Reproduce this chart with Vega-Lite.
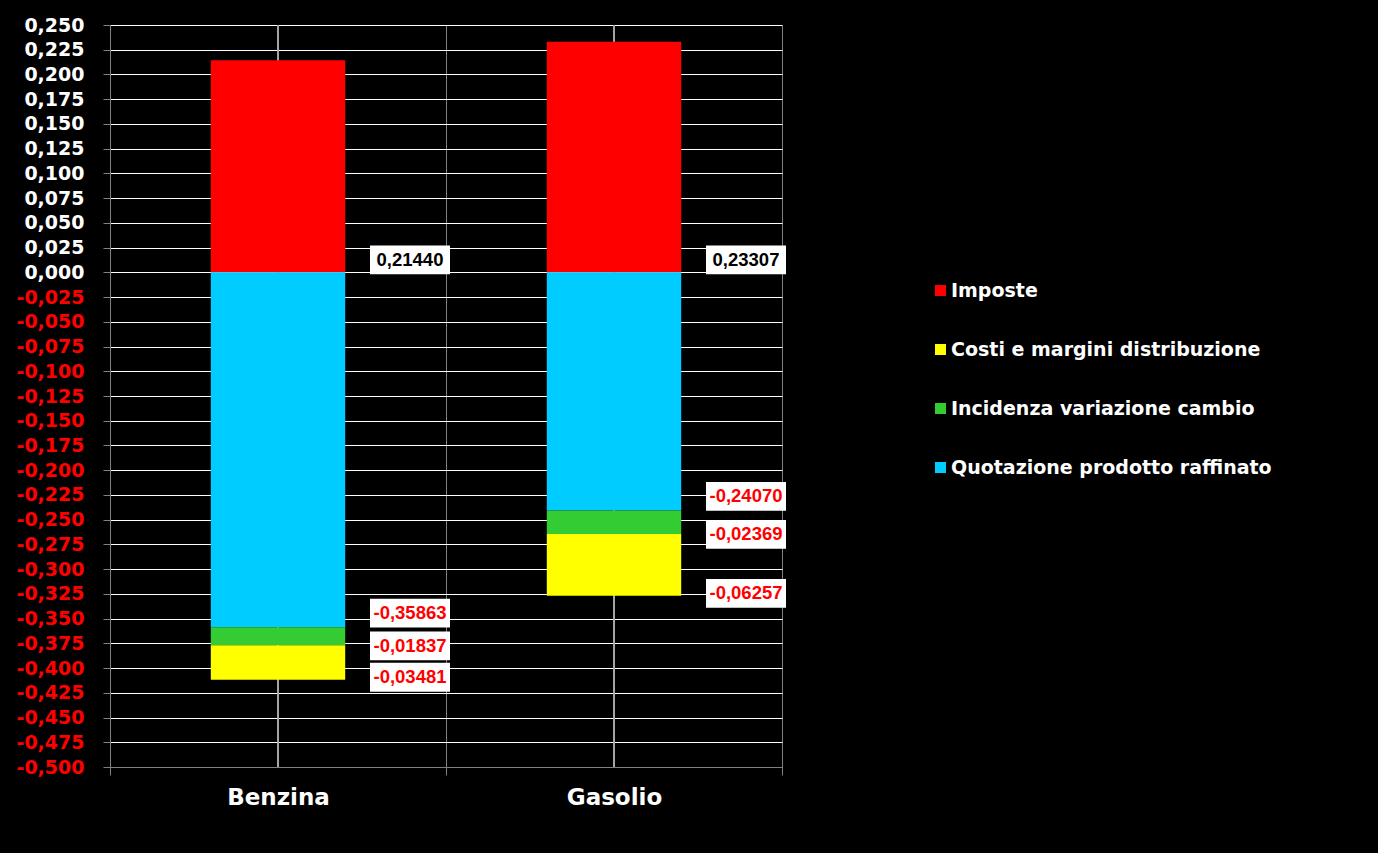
{
  "$schema": "https://vega.github.io/schema/vega-lite/v6.json",
  "width": 672,
  "height": 742,
  "autosize": {"type": "none"},
  "padding": {"left": 110, "top": 25, "right": 596, "bottom": 86},
  "background": "#000000",
  "config": {
    "view": {"stroke": null},
    "locale": {"number": {"decimal": ",", "thousands": ".", "grouping": [3], "currency": ["", " €"], "minus": "-"}}
  },
  "data": {
    "values": [
      {"prodotto": "Benzina", "serie": "Imposte", "valore": 0.21440, "ord": 0},
      {"prodotto": "Benzina", "serie": "Quotazione prodotto raffinato", "valore": -0.35863, "ord": 1},
      {"prodotto": "Benzina", "serie": "Incidenza variazione cambio", "valore": -0.01837, "ord": 2},
      {"prodotto": "Benzina", "serie": "Costi e margini distribuzione", "valore": -0.03481, "ord": 3},
      {"prodotto": "Gasolio", "serie": "Imposte", "valore": 0.23307, "ord": 0},
      {"prodotto": "Gasolio", "serie": "Quotazione prodotto raffinato", "valore": -0.24070, "ord": 1},
      {"prodotto": "Gasolio", "serie": "Incidenza variazione cambio", "valore": -0.02369, "ord": 2},
      {"prodotto": "Gasolio", "serie": "Costi e margini distribuzione", "valore": -0.06257, "ord": 3}
    ]
  },
  "transform": [
    {"stack": "valore", "groupby": ["prodotto"], "sort": [{"field": "ord", "order": "ascending"}], "as": ["v0", "v1"]}
  ],
  "encoding": {
    "x": {
      "field": "prodotto", "type": "nominal",
      "scale": {"domain": ["Benzina", "Gasolio"], "paddingInner": 0, "paddingOuter": 0},
      "axis": {
        "title": null, "labelAngle": 0, "tickBand": "extent",
        "labelFont": "DejaVu Sans", "labelFontWeight": "bold", "labelFontSize": 23, "labelColor": "#ffffff",
        "labelPadding": 11, "tickSize": 8, "tickColor": "#808080", "domainColor": "#808080",
        "grid": true, "gridColor": "#808080", "gridWidth": 1
      }
    },
    "y": {
      "field": "v1", "type": "quantitative",
      "scale": {"domain": [-0.5, 0.25], "nice": false},
      "axis": {
        "title": null,
        "values": [-0.5, -0.475, -0.45, -0.425, -0.4, -0.375, -0.35, -0.325, -0.3, -0.275, -0.25, -0.225, -0.2, -0.175, -0.15, -0.125, -0.1, -0.075, -0.05, -0.025, 0, 0.025, 0.05, 0.075, 0.1, 0.125, 0.15, 0.175, 0.2, 0.225, 0.25],
        "format": ".3f",
        "labelFont": "DejaVu Sans", "labelFontWeight": "bold", "labelFontSize": 19,
        "labelColor": {"condition": {"test": "datum.value < 0", "value": "#ff0000"}, "value": "#ffffff"},
        "labelPadding": 19, "tickSize": 7, "tickColor": "#808080", "domainColor": "#808080",
        "grid": true, "gridColor": "#ffffff", "gridWidth": 1, "labelOverlap": false, "labelFlush": false
      }
    }
  },
  "layer": [
    {
      "mark": {"type": "rule", "color": "#b0b0b0", "strokeWidth": 1},
      "encoding": {"y": null}
    },
    {
      "mark": {"type": "bar", "width": {"band": 0.4}},
      "encoding": {
        "y2": {"field": "v0"},
        "color": {
          "field": "serie", "type": "nominal",
          "scale": {
            "domain": ["Imposte", "Costi e margini distribuzione", "Incidenza variazione cambio", "Quotazione prodotto raffinato"],
            "range": ["#ff0000", "#ffff00", "#33cc33", "#00ccff"]
          },
          "legend": {
            "title": null, "orient": "none", "legendX": 821, "legendY": 256, "padding": 0,
            "symbolType": "square", "symbolSize": 121, "symbolStrokeWidth": 0,
            "labelFont": "DejaVu Sans", "labelFontWeight": "bold", "labelFontSize": 19, "labelColor": "#ffffff",
            "labelOffset": 1, "rowPadding": 39, "labelLimit": 500
          }
        }
      }
    },
    {
      "transform": [{"filter": "datum.serie == 'Imposte'"}],
      "mark": {"type": "point", "shape": "M-1,-0.36L1,-0.36L1,0.36L-1,0.36Z", "size": 6400, "filled": true, "fill": "#ffffff", "opacity": 1, "strokeWidth": 0, "xOffset": 132, "yOffset": -12.5},
      "encoding": {"y2": {"field": "v0"}, "y": {"field": "v0", "type": "quantitative", "scale": {"domain": [-0.5, 0.25], "nice": false},
      "axis": {
        "title": null,
        "values": [-0.5, -0.475, -0.45, -0.425, -0.4, -0.375, -0.35, -0.325, -0.3, -0.275, -0.25, -0.225, -0.2, -0.175, -0.15, -0.125, -0.1, -0.075, -0.05, -0.025, 0, 0.025, 0.05, 0.075, 0.1, 0.125, 0.15, 0.175, 0.2, 0.225, 0.25],
        "format": ".3f",
        "labelFont": "DejaVu Sans", "labelFontWeight": "bold", "labelFontSize": 19,
        "labelColor": {"condition": {"test": "datum.value < 0", "value": "#ff0000"}, "value": "#ffffff"},
        "labelPadding": 19, "tickSize": 7, "tickColor": "#808080", "domainColor": "#808080",
        "grid": true, "gridColor": "#ffffff", "gridWidth": 1, "labelOverlap": false, "labelFlush": false
      }}}
    },
    {
      "transform": [{"filter": "datum.serie == 'Imposte'"}],
      "mark": {"type": "text", "font": "Liberation Sans", "fontWeight": "bold", "fontSize": 18.5, "color": "#000000", "align": "center", "baseline": "middle", "xOffset": 132, "yOffset": -12.5},
      "encoding": {"y": {"field": "v0", "type": "quantitative", "scale": {"domain": [-0.5, 0.25], "nice": false},
      "axis": {
        "title": null,
        "values": [-0.5, -0.475, -0.45, -0.425, -0.4, -0.375, -0.35, -0.325, -0.3, -0.275, -0.25, -0.225, -0.2, -0.175, -0.15, -0.125, -0.1, -0.075, -0.05, -0.025, 0, 0.025, 0.05, 0.075, 0.1, 0.125, 0.15, 0.175, 0.2, 0.225, 0.25],
        "format": ".3f",
        "labelFont": "DejaVu Sans", "labelFontWeight": "bold", "labelFontSize": 19,
        "labelColor": {"condition": {"test": "datum.value < 0", "value": "#ff0000"}, "value": "#ffffff"},
        "labelPadding": 19, "tickSize": 7, "tickColor": "#808080", "domainColor": "#808080",
        "grid": true, "gridColor": "#ffffff", "gridWidth": 1, "labelOverlap": false, "labelFlush": false
      }}, "text": {"field": "valore", "type": "quantitative", "format": ".5f"}}
    },
    {
      "transform": [{"filter": "datum.serie == 'Quotazione prodotto raffinato'"}],
      "mark": {"type": "point", "shape": "M-1,-0.36L1,-0.36L1,0.36L-1,0.36Z", "size": 6400, "filled": true, "fill": "#ffffff", "opacity": 1, "strokeWidth": 0, "xOffset": 132, "yOffset": -14}
    },
    {
      "transform": [{"filter": "datum.serie == 'Quotazione prodotto raffinato'"}],
      "mark": {"type": "text", "font": "Liberation Sans", "fontWeight": "bold", "fontSize": 18.5, "color": "#ff0000", "align": "center", "baseline": "middle", "xOffset": 132, "yOffset": -14},
      "encoding": {"text": {"field": "valore", "type": "quantitative", "format": ".5f"}}
    },
    {
      "transform": [{"filter": "datum.serie == 'Incidenza variazione cambio'"}],
      "mark": {"type": "point", "shape": "M-1,-0.36L1,-0.36L1,0.36L-1,0.36Z", "size": 6400, "filled": true, "fill": "#ffffff", "opacity": 1, "strokeWidth": 0, "xOffset": 132, "yOffset": 0.5}
    },
    {
      "transform": [{"filter": "datum.serie == 'Incidenza variazione cambio'"}],
      "mark": {"type": "text", "font": "Liberation Sans", "fontWeight": "bold", "fontSize": 18.5, "color": "#ff0000", "align": "center", "baseline": "middle", "xOffset": 132, "yOffset": 0.5},
      "encoding": {"text": {"field": "valore", "type": "quantitative", "format": ".5f"}}
    },
    {
      "transform": [{"filter": "datum.serie == 'Costi e margini distribuzione'"}],
      "mark": {"type": "point", "shape": "M-1,-0.36L1,-0.36L1,0.36L-1,0.36Z", "size": 6400, "filled": true, "fill": "#ffffff", "opacity": 1, "strokeWidth": 0, "xOffset": 132, "yOffset": -2.5}
    },
    {
      "transform": [{"filter": "datum.serie == 'Costi e margini distribuzione'"}],
      "mark": {"type": "text", "font": "Liberation Sans", "fontWeight": "bold", "fontSize": 18.5, "color": "#ff0000", "align": "center", "baseline": "middle", "xOffset": 132, "yOffset": -2.5},
      "encoding": {"text": {"field": "valore", "type": "quantitative", "format": ".5f"}}
    }
  ]
}
